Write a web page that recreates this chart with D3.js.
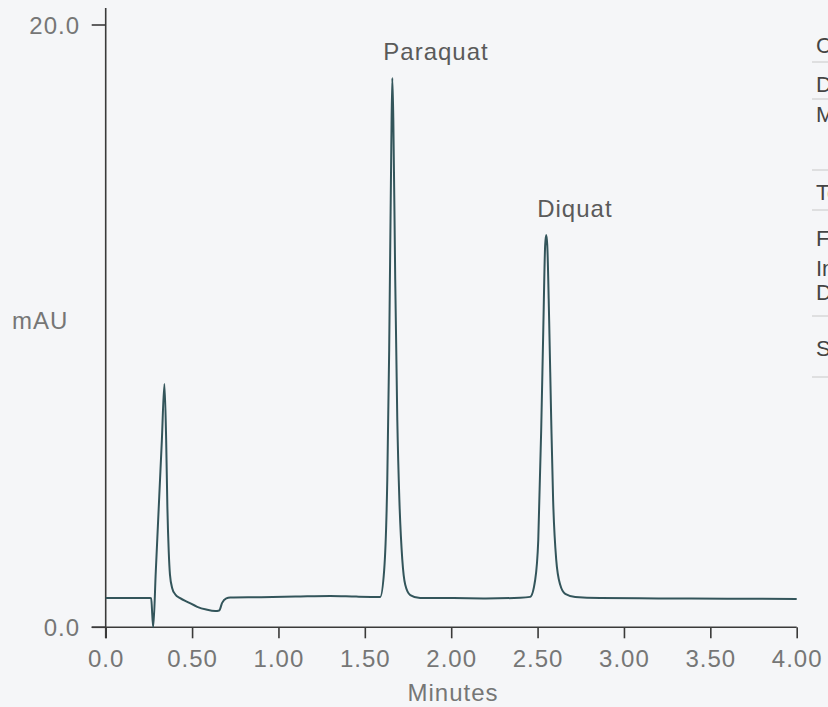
<!DOCTYPE html>
<html>
<head>
<meta charset="utf-8">
<script src="https://cdn.jsdelivr.net/npm/d3@7"></script>
<style>
    body { margin: 0; background: #f5f6f8; }
    svg { display: block; }
    .tick-label { font-family: 'Liberation Sans', Arial, sans-serif; font-size: 24px; fill: #767676; letter-spacing: 1px; }
    .peak-label { font-family: 'Liberation Sans', Arial, sans-serif; font-size: 24px; fill: #5a5a5a; letter-spacing: 1px; }
    .side-text { font-family: 'Liberation Sans', Arial, sans-serif; font-size: 22px; fill: #444; }
</style>
</head>
<body>
<svg id="chart"></svg>
<script>
    // trace, minutes vs mAU
    var times = [0, 0.258, 0.263, 0.275, 0.29, 0.31, 0.325, 0.340, 0.350, 0.357, 0.365, 0.372,
        0.385, 0.402, 0.431, 0.478, 0.530, 0.582, 0.634, 0.657, 0.674, 0.698, 0.721,
        0.90, 1.10, 1.30, 1.45, 1.589, 1.612, 1.630, 1.641, 1.653, 1.659, 1.665, 1.676,
        1.688, 1.700, 1.717, 1.734, 1.763, 1.820, 2.00, 2.20, 2.40,
        2.457, 2.486, 2.504, 2.521, 2.533, 2.544, 2.550, 2.556, 2.567, 2.579, 2.590,
        2.608, 2.631, 2.660, 2.718, 2.862, 3.20, 3.60, 4.00];
    var mau = [0.97, 0.97, 0.96, 0.0, 1.86, 4.35, 6.2, 8.08, 6.22, 4.0, 2.5, 1.75,
        1.3, 1.1, 0.97, 0.83, 0.68, 0.59, 0.54, 0.56, 0.81, 0.96, 0.99,
        1.0, 1.02, 1.04, 1.02, 1.01, 1.90, 4.89, 9.21, 15.85, 18.24, 16.85, 11.53,
        6.88, 4.23, 2.24, 1.41, 1.07, 0.97, 0.97, 0.96, 0.98,
        1.01, 1.57, 2.90, 6.56, 9.87, 12.7, 13.03, 12.7, 10.2, 6.88, 4.23,
        2.24, 1.41, 1.11, 1.01, 0.97, 0.96, 0.95, 0.94];

    var xTicks = [0, 0.5, 1.0, 1.5, 2.0, 2.5, 3.0, 3.5, 4.0];
    var xTickLabels = ['0.0', '0.50', '1.00', '1.50', '2.00', '2.50', '3.00', '3.50', '4.00'];
    var yTicks = [0, 20];
    var yTickLabels = ['0.0', '20.0'];

    var peakNames = ['Paraquat', 'Diquat'];
    var peakTimes = [1.659, 2.550];
    var peakHeights = [18.24, 13.03];

    // method table at the right edge, mostly cut off by the frame
    var sideRows = ['Column', 'Dimensions', 'Mobile phase', 'Temperature', 'Flow rate', 'Injection', 'Detection', 'Sample'];
    var sideRowY = [45, 84, 114, 192, 238, 268, 292, 348];
    var sideRules = [62, 99, 170, 210, 316, 377];

    var width = 828;
    var height = 707;
    var plotLeft = 105.7;
    var plotRight = 796.7;
    var plotTop = 25;
    var plotBottom = 627.3;

    var x = d3.scaleLinear().domain([0, 4]).range([plotLeft, plotRight]);
    var y = d3.scaleLinear().domain([0, 20]).range([plotBottom, plotTop]);

    var svg = d3.select('#chart')
        .attr('width', width)
        .attr('height', height);

    var points = times.map(function (t, i) {
        return [t, mau[i]];
    });

    // axes
    var xAxis = d3.axisBottom(x)
        .tickValues(xTicks)
        .tickSize(11)
        .tickFormat(function (d, i) { return xTickLabels[i]; });

    var gx = svg.append('g')
        .attr('transform', 'translate(0,' + plotBottom + ')')
        .call(xAxis);
    gx.select('.domain').remove();
    gx.selectAll('.tick line').attr('stroke', '#3a3a3a').attr('stroke-width', 1.6);
    gx.selectAll('.tick text')
        .attr('class', 'tick-label')
        .attr('dy', null)
        .attr('y', 40);
    gx.attr('font-size', null).attr('font-family', null);

    svg.append('line')
        .attr('x1', plotLeft - 14)
        .attr('x2', plotRight)
        .attr('y1', plotBottom)
        .attr('y2', plotBottom)
        .attr('stroke', '#3a3a3a')
        .attr('stroke-width', 1.6);

    svg.append('line')
        .attr('x1', plotLeft)
        .attr('x2', plotLeft)
        .attr('y1', 8)
        .attr('y2', plotBottom + 11)
        .attr('stroke', '#3a3a3a')
        .attr('stroke-width', 1.6);

    svg.selectAll('line.ytick')
        .data(yTicks)
        .enter()
        .append('line')
        .attr('class', 'ytick')
        .attr('x1', plotLeft - 14)
        .attr('x2', plotLeft)
        .attr('y1', function (d) { return y(d); })
        .attr('y2', function (d) { return y(d); })
        .attr('stroke', '#3a3a3a')
        .attr('stroke-width', 1.6);

    svg.selectAll('text.ylab')
        .data(yTicks)
        .enter()
        .append('text')
        .attr('class', 'tick-label')
        .attr('x', 80)
        .attr('y', function (d) { return y(d) + 9; })
        .attr('text-anchor', 'end')
        .text(function (d, i) { return yTickLabels[i]; });

    svg.append('text')
        .attr('class', 'tick-label')
        .attr('x', 12)
        .attr('y', 329)
        .text('mAU');

    svg.append('text')
        .attr('class', 'tick-label')
        .attr('x', 453)
        .attr('y', 701)
        .attr('text-anchor', 'middle')
        .text('Minutes');

    // trace
    var line = d3.line()
        .x(function (d) { return x(d[0]); })
        .y(function (d) { return y(d[1]); })
        .curve(d3.curveMonotoneX);

    svg.append('path')
        .datum(points)
        .attr('d', line)
        .attr('fill', 'none')
        .attr('stroke', '#33555b')
        .attr('stroke-width', 2)
        .attr('stroke-linejoin', 'round');

    svg.selectAll('text.peak')
        .data(peakNames)
        .enter()
        .append('text')
        .attr('class', 'peak-label')
        .attr('x', function (d, i) { return x(peakTimes[i]) - 9; })
        .attr('y', function (d, i) { return y(peakHeights[i]) - 18; })
        .text(function (d) { return d; });

    // right-hand table, clipped by the window
    svg.selectAll('line.rule')
        .data(sideRules)
        .enter()
        .append('line')
        .attr('x1', 812)
        .attr('x2', width)
        .attr('y1', function (d) { return d; })
        .attr('y2', function (d) { return d; })
        .attr('stroke', '#c8c8c8')
        .attr('stroke-width', 1);

    svg.selectAll('text.side')
        .data(sideRows)
        .enter()
        .append('text')
        .attr('class', 'side-text')
        .attr('x', 816)
        .attr('y', function (d, i) { return sideRowY[i] + 8; })
        .text(function (d) { return d; });
</script>
</body>
</html>
